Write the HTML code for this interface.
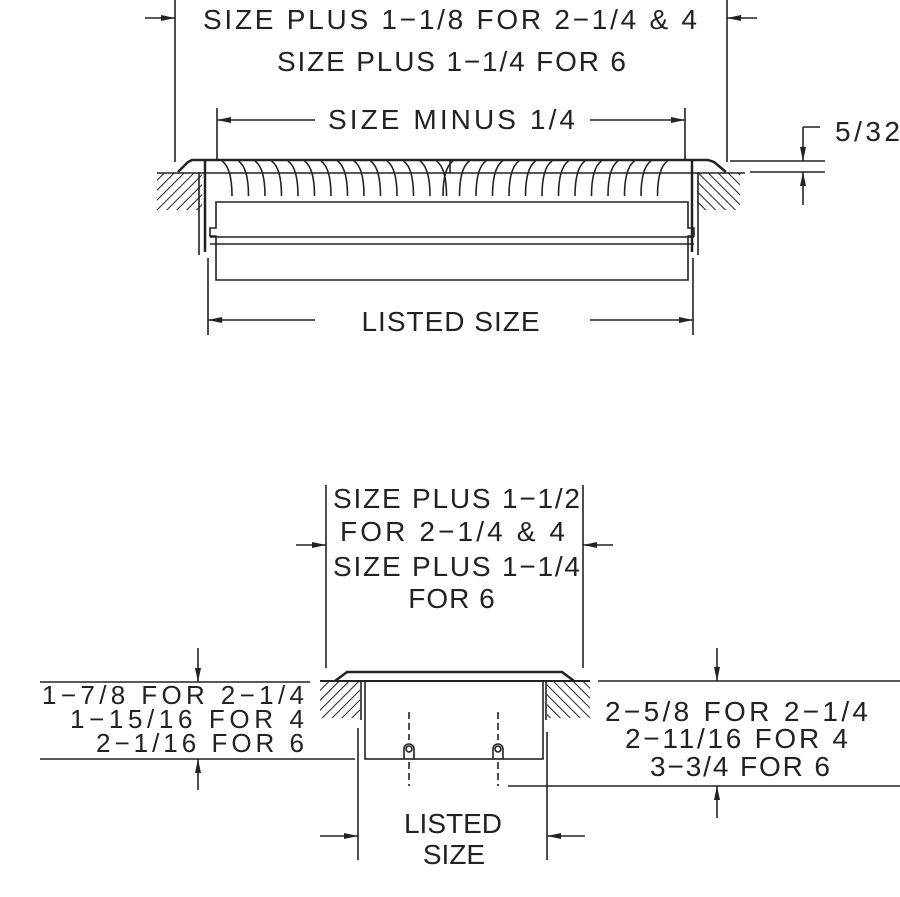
<!DOCTYPE html>
<html><head><style>html,body{margin:0;padding:0;background:#fff}svg{display:block}</style></head>
<body>
<svg id="s" width="900" height="897" viewBox="0 0 900 897" xmlns="http://www.w3.org/2000/svg" font-family="Liberation Sans, sans-serif" fill="none" stroke="#222" stroke-width="1.6">
<defs>
<marker id="a" markerWidth="14" markerHeight="6" refX="14" refY="3" orient="auto" markerUnits="userSpaceOnUse"><path d="M0,0 L14,3 L0,6z" fill="#222" stroke="none"/></marker>
<pattern id="h" width="7" height="7" patternUnits="userSpaceOnUse" patternTransform="rotate(45)"><line x1="0" y1="0" x2="0" y2="7" stroke="#222" stroke-width="2"/></pattern>
<pattern id="h2" width="7" height="7" patternUnits="userSpaceOnUse" patternTransform="rotate(-45)"><line x1="0" y1="0" x2="0" y2="7" stroke="#222" stroke-width="2"/></pattern>
</defs>
<g fill="#222" stroke="none" font-size="28">
<text x="203" y="29" textLength="494" lengthAdjust="spacing">SIZE PLUS 1−1/8 FOR 2−1/4 &amp; 4</text>
<text x="277" y="71" textLength="349" lengthAdjust="spacing">SIZE PLUS 1−1/4 FOR 6</text>
<text x="328" y="129" textLength="247" lengthAdjust="spacing">SIZE MINUS 1/4</text>
<text x="835" y="141" textLength="65" lengthAdjust="spacing">5/32</text>
<text x="451" y="331" text-anchor="middle" letter-spacing="1">LISTED SIZE</text>
<text x="333" y="508" textLength="247" lengthAdjust="spacing">SIZE PLUS 1−1/2</text>
<text x="340" y="541" textLength="225" lengthAdjust="spacing">FOR 2−1/4 &amp; 4</text>
<text x="333" y="576" textLength="247" lengthAdjust="spacing">SIZE PLUS 1−1/4</text>
<text x="452" y="608" text-anchor="middle" letter-spacing="1">FOR 6</text>
<text x="605" y="721" textLength="263" lengthAdjust="spacing">2−5/8 FOR 2−1/4</text>
<text x="625" y="748" textLength="223" lengthAdjust="spacing">2−11/16 FOR 4</text>
<text x="650" y="776" textLength="180" lengthAdjust="spacing">3−3/4 FOR 6</text>
<text x="453" y="833" text-anchor="middle">LISTED</text>
<text x="454" y="864" text-anchor="middle">SIZE</text>
</g>
<g fill="#222" stroke="none" font-size="26">
<text x="42" y="704" textLength="262" lengthAdjust="spacing">1−7/8 FOR 2−1/4</text>
<text x="70" y="728" textLength="234" lengthAdjust="spacing">1−15/16 FOR 4</text>
<text x="96" y="752" textLength="208" lengthAdjust="spacing">2−1/16 FOR 6</text>
</g>
<line x1="175" y1="0" x2="175" y2="162"/><line x1="727" y1="0" x2="727" y2="162"/>
<line x1="145" y1="18" x2="175" y2="18" marker-end="url(#a)"/><line x1="757" y1="18" x2="727" y2="18" marker-end="url(#a)"/>
<line x1="217" y1="108" x2="217" y2="160"/><line x1="685" y1="108" x2="685" y2="160"/>
<line x1="315" y1="120" x2="217" y2="120" marker-end="url(#a)"/><line x1="590" y1="120" x2="685" y2="120" marker-end="url(#a)"/>
<line x1="730" y1="161" x2="825" y2="161"/><line x1="750" y1="172" x2="825" y2="172"/>
<line x1="820" y1="127" x2="803" y2="127"/><line x1="803" y1="127" x2="803" y2="161" marker-end="url(#a)"/><line x1="803" y1="205" x2="803" y2="172" marker-end="url(#a)"/>
<rect x="157" y="173" width="45" height="37" fill="url(#h)" stroke="none"/>
<rect x="697" y="173" width="43" height="37" fill="url(#h2)" stroke="none"/>
<line x1="157" y1="173" x2="745" y2="173"/>
<path d="M178,172 L188,162 L192,160 L708,160 L714,162 L726,172" stroke-width="2.5"/>
<line x1="205" y1="160" x2="205" y2="252" stroke-width="2.5"/><line x1="692" y1="160" x2="692" y2="252" stroke-width="2.5"/>
<line x1="199" y1="172" x2="199" y2="255"/><line x1="698" y1="172" x2="698" y2="255"/>
<path d="M216,280 L216,236 L210,236 L210,228 L216,228 L216,202 L688,202 L688,228 L694,228 L694,236 L688,236 L688,280 Z"/>
<line x1="210" y1="237" x2="694" y2="237"/><line x1="210" y1="244" x2="694" y2="244"/>
<g id="bl"></g>
<line x1="208" y1="258" x2="208" y2="335"/><line x1="693" y1="258" x2="693" y2="335"/>
<line x1="315" y1="320" x2="208" y2="320" marker-end="url(#a)"/><line x1="590" y1="320" x2="693" y2="320" marker-end="url(#a)"/>
<line x1="326" y1="485" x2="326" y2="668"/><line x1="583" y1="485" x2="583" y2="668"/>
<line x1="296" y1="545" x2="326" y2="545" marker-end="url(#a)"/><line x1="613" y1="545" x2="583" y2="545" marker-end="url(#a)"/>
<rect x="320" y="682" width="40" height="36" fill="url(#h)" stroke="none"/>
<rect x="547" y="682" width="43" height="36" fill="url(#h2)" stroke="none"/>
<line x1="320" y1="681" x2="590" y2="681" stroke-width="2"/>
<path d="M335,681 L347,672 L562,672 L574,681" stroke-width="2.5"/>
<line x1="361" y1="681" x2="361" y2="720"/><line x1="546" y1="681" x2="546" y2="720"/>
<rect x="365" y="681" width="178" height="78"/>
<path d="M404,759 V749 A5,5 0 0 1 414,749 V759 M493,759 V749 A5,5 0 0 1 503,749 V759"/>
<circle cx="409" cy="749" r="3"/><circle cx="498" cy="749" r="3"/>
<path d="M409,712 V740 M498,712 V740 M409,762 V786 M498,762 V786" stroke-dasharray="7,4"/>
<line x1="40" y1="682" x2="310" y2="682"/><line x1="40" y1="759" x2="355" y2="759"/>
<line x1="198" y1="648" x2="198" y2="682" marker-end="url(#a)"/><line x1="198" y1="790" x2="198" y2="759" marker-end="url(#a)"/>
<line x1="598" y1="681" x2="900" y2="681"/><line x1="508" y1="786" x2="900" y2="786"/>
<line x1="717" y1="648" x2="717" y2="681" marker-end="url(#a)"/><line x1="717" y1="818" x2="717" y2="786" marker-end="url(#a)"/>
<line x1="358" y1="728" x2="358" y2="860"/><line x1="547" y1="732" x2="547" y2="860"/>
<line x1="320" y1="836" x2="358" y2="836" marker-end="url(#a)"/><line x1="585" y1="836" x2="547" y2="836" marker-end="url(#a)"/>
</svg>
<script>
var g=document.getElementById('bl'),s='';
for(var i=0;i<28;i++){var x=222+i*16.5;var c=x<450;var d=c?10:-10;
s+='<path d="M'+x+',161 Q'+(x+d)+',168 '+(x+d)+',196"/>';}
s+='<line x1="450" y1="160" x2="450" y2="173"/>';
g.innerHTML=s;
</script>
</body></html>
